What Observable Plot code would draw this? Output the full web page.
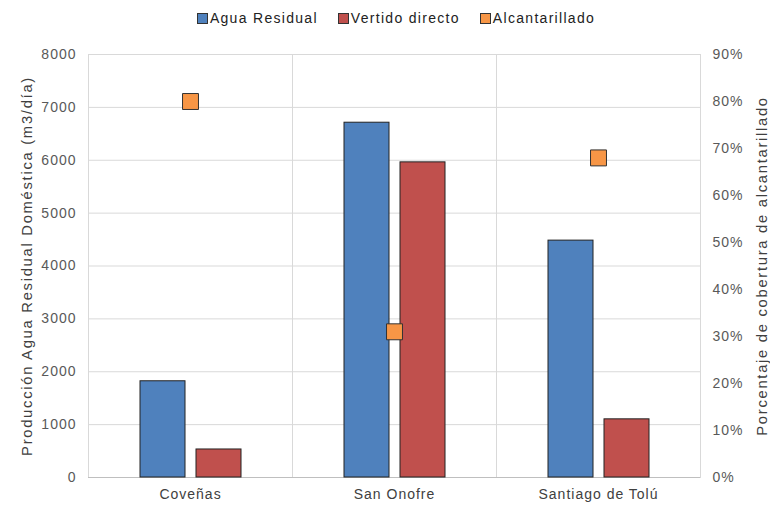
<!DOCTYPE html>
<html>
<head>
<meta charset="utf-8">
<script src="https://cdn.jsdelivr.net/npm/d3@7"></script>
<script src="https://cdn.jsdelivr.net/npm/@observablehq/plot@0.6"></script>
<style>
  body { margin: 0; background: #fff; font-family: "Liberation Sans", Arial, sans-serif; }
  #legend { height: 36px; display: flex; justify-content: center; align-items: center; gap: 20px; font-size: 14px; letter-spacing: 1.3px; color: #222; padding-left: 22px; box-sizing: border-box; }
  #legend .item { display: flex; align-items: center; gap: 2px; }
  #legend .sw { width: 9px; height: 9px; border: 1px solid #333; display: inline-block; }
</style>
</head>
<body>
<div id="legend"></div>
<div id="chart"></div>
<script>
const cities = ["Coveñas", "San Onofre", "Santiago de Tolú"];
const seriesNames = ["Agua Residual", "Vertido directo", "Alcantarillado"];
const aguaResidual = [1820, 6710, 4480];
const vertidoDirecto = [530, 5960, 1100];
const alcantarillado = [0.80, 0.31, 0.68];
const leftTicks = [0, 1000, 2000, 3000, 4000, 5000, 6000, 7000, 8000];
const rightTicks = [0, 0.1, 0.2, 0.3, 0.4, 0.5, 0.6, 0.7, 0.8, 0.9];
const colors = ["#4f81bd", "#c0504d", "#f79646"];

const k = 8000 / 0.9; // maps percent to left scale

const bars = cities.flatMap((c, i) => [
  {city: c, serie: seriesNames[0], value: aguaResidual[i]},
  {city: c, serie: seriesNames[1], value: vertidoDirecto[i]}
]);
const pts = cities.map((c, i) => ({city: c, pct: alcantarillado[i]}));

// legend
const leg = document.getElementById("legend");
seriesNames.forEach((s, i) => {
  const it = document.createElement("div");
  it.className = "item";
  it.innerHTML = `<span class="sw" style="background:${colors[i]}"></span><span>${s}</span>`;
  leg.appendChild(it);
});

const chart = Plot.plot({
  width: 770,
  height: 472,
  marginLeft: 88,
  marginRight: 70,
  marginTop: 18,
  marginBottom: 31,
  style: {fontFamily: "Liberation Sans, Arial, sans-serif", fontSize: "14px", letterSpacing: "1px", color: "#595959", background: "#fff"},
  fx: {domain: cities, paddingInner: 0, paddingOuter: 0, label: null},
  x: {domain: seriesNames.slice(0, 2), paddingInner: 0.2, paddingOuter: 0.9, axis: null},
  y: {domain: [0, 8000], axis: null},
  color: {domain: seriesNames, range: colors},
  marks: [
    Plot.gridY(leftTicks, {stroke: "#d9d9d9", strokeOpacity: 1}),
    Plot.frame({stroke: "#d9d9d9"}),
    Plot.ruleY([0], {stroke: "#bfbfbf"}),
    Plot.barY(bars, {fx: "city", x: "serie", y: "value", fill: "serie", stroke: "#222", strokeWidth: 1}),
    Plot.dot(pts, {fx: "city", y: d => d.pct * k, symbol: "square", r: 9, fill: colors[2], stroke: "#333", strokeWidth: 1}),
    Plot.axisY(leftTicks, {anchor: "left", tickSize: 0, tickPadding: 12, fill: "#595959", tickFormat: d => String(d),
      label: "Producción Agua Residual Doméstica (m3/día)", labelAnchor: "center", labelOffset: 67, labelArrow: "none"}),
    Plot.axisY(rightTicks.map(t => t * k), {anchor: "right", tickSize: 0, tickPadding: 12, fill: "#595959",
      tickFormat: d => Math.round(d / k * 100) + "%",
      label: "Porcentaje de cobertura de alcantarillado", labelAnchor: "center", labelOffset: 66, labelArrow: "none"}),
    Plot.axisFx({anchor: "bottom", tickSize: 0, tickPadding: 12, fill: "#404040", label: null})
  ]
});
d3.select(chart).selectAll('g[aria-label="y-axis label"]')
  .style("font-size", "14.8px").style("letter-spacing", "1.7px").attr("fill", "#404040");
document.getElementById("chart").appendChild(chart);
</script>
</body>
</html>
